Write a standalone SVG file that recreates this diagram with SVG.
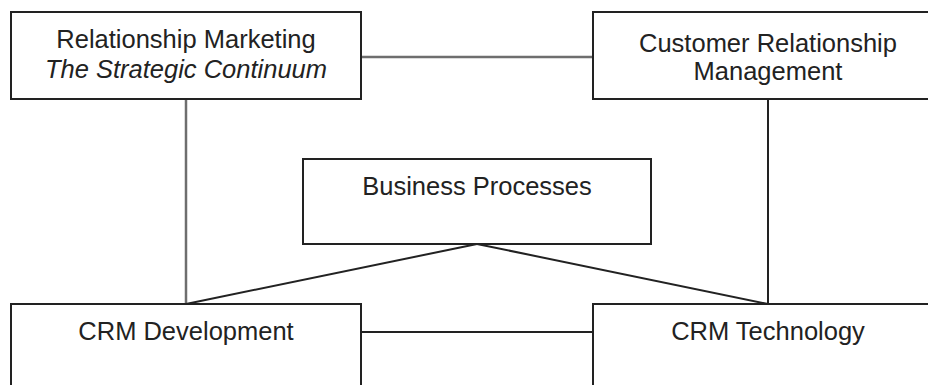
<svg xmlns="http://www.w3.org/2000/svg" width="928" height="385" viewBox="0 0 928 385">
<style>
.box{fill:#fff;stroke:#222;stroke-width:2}
.t{font-family:"Liberation Sans",Arial,sans-serif;font-size:25.5px;fill:#222;text-anchor:middle}
.i{font-style:italic}
.c{fill:none;stroke:#222;stroke-width:2}
.g{stroke:#6e6e6e;stroke-width:2.5}
</style>
<rect width="928" height="385" fill="#fff"/>
<g id="connectors">
<line class="c g" x1="361" y1="57" x2="593" y2="57"/>
<line class="c g" x1="186" y1="99" x2="186" y2="304"/>
<line class="c" x1="768" y1="99" x2="768" y2="304"/>
<line class="c" x1="361" y1="332" x2="593" y2="332"/>
<line class="c" x1="477" y1="244" x2="186" y2="304"/>
<line class="c" x1="477" y1="244" x2="768" y2="304"/>
</g>
<g id="relationship-marketing">
<rect class="box" x="11" y="12" width="350" height="87"/>
<text class="t" x="186" y="48">Relationship Marketing</text>
<text class="t i" x="186" y="78">The Strategic Continuum</text>
</g>
<g id="crm">
<rect class="box" x="593" y="12" width="350" height="87"/>
<text class="t" x="768" y="52">Customer Relationship</text>
<text class="t" x="768" y="80">Management</text>
</g>
<g id="business-processes">
<rect class="box" x="303" y="159" width="348" height="85"/>
<text class="t" x="477" y="195">Business Processes</text>
</g>
<g id="crm-development">
<rect class="box" x="11" y="304" width="350" height="100"/>
<text class="t" x="186" y="340">CRM Development</text>
</g>
<g id="crm-technology">
<rect class="box" x="593" y="304" width="350" height="100"/>
<text class="t" x="768" y="340">CRM Technology</text>
</g>
</svg>
